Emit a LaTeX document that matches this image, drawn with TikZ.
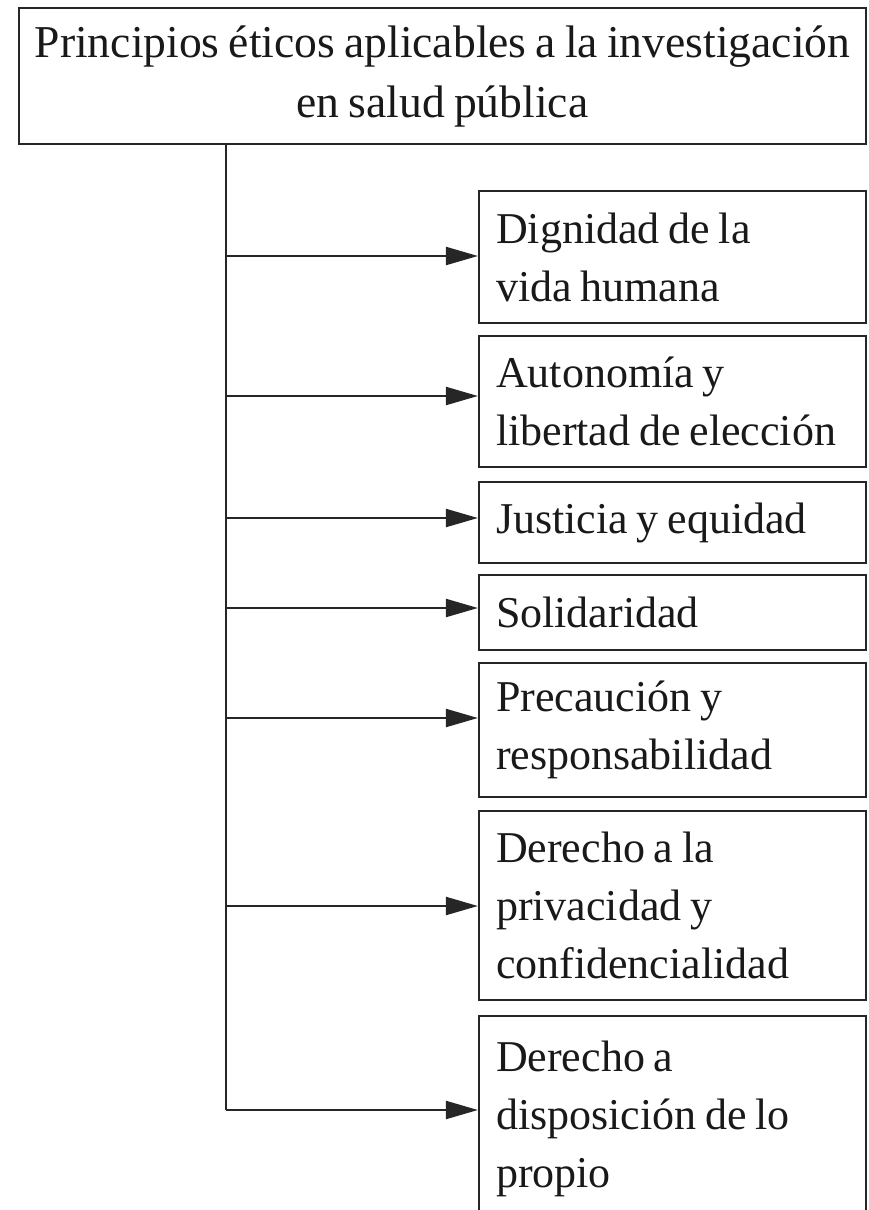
\documentclass[tikz,border=0pt]{standalone}
\usepackage{fontspec}
\setmainfont[WordSpace=0.8]{Liberation Serif}
\usetikzlibrary{arrows.meta}
\tikzset{
  caja/.style={draw=black!85, line width=1.1pt, text=black!90,
    font=\fontsize{22}{29}\selectfont},
  principio/.style={caja, text width=176.5pt, align=flush left, inner xsep=8.5pt,
    inner ysep=0pt, minimum width=193.5pt},
  rama/.style={line width=1.1pt, draw=black!85, -{Triangle[length=16pt,width=9pt]}}
}
\begin{document}
\begin{tikzpicture}[x=0.5pt, y=-0.5pt]
    \useasboundingbox (0,0) rectangle (868,1210);
    \clip (0,0) rectangle (868,1210);

    % titulo
    \node[caja, align=center, minimum width=423.5pt, minimum height=68pt,
        font=\fontsize{22.8}{30}\selectfont] (titulo) at (442.5,76)
        {Principios éticos aplicables a la investigación\\en salud pública};

    % principios
    \node[principio, minimum height=66pt] (b1) at (672.5,257) {Dignidad de la\\vida humana};
    \node[principio, minimum height=65.5pt] (b2) at (672.5,401.5) {Autonomía y\\libertad de elección};
    \node[principio, minimum height=40.5pt] (b3) at (672.5,522.5) {Justicia y equidad};
    \node[principio, minimum height=37.5pt] (b4) at (672.5,612.5) {Solidaridad};
    \node[principio, minimum height=67pt] (b5) at (672.5,730) {Precaución y\\responsabilidad};
    \node[principio, minimum height=94.5pt] (b6) at (672.5,905.5) {Derecho a la\\privacidad y\\confidencialidad};
    \node[principio, anchor=north, inner ysep=12.5pt, text depth=100pt] (b7) at (672.5,1015)
        {Derecho a\\disposición de lo\\propio};

    % puntos de rama
    \coordinate (j1) at (226,256);
    \coordinate (j2) at (226,396);
    \coordinate (j3) at (226,518);
    \coordinate (j4) at (226,608);
    \coordinate (j5) at (226,718);
    \coordinate (j6) at (226,906);
    \coordinate (j7) at (226,1110);

    % tronco y flechas
    \draw[line width=1.1pt, draw=black!85] (titulo.south -| j7) -- (j7);
    \foreach \i in {1,...,7}
        \draw[rama] (j\i) -- (j\i -| b\i.west);
\end{tikzpicture}
\end{document}
